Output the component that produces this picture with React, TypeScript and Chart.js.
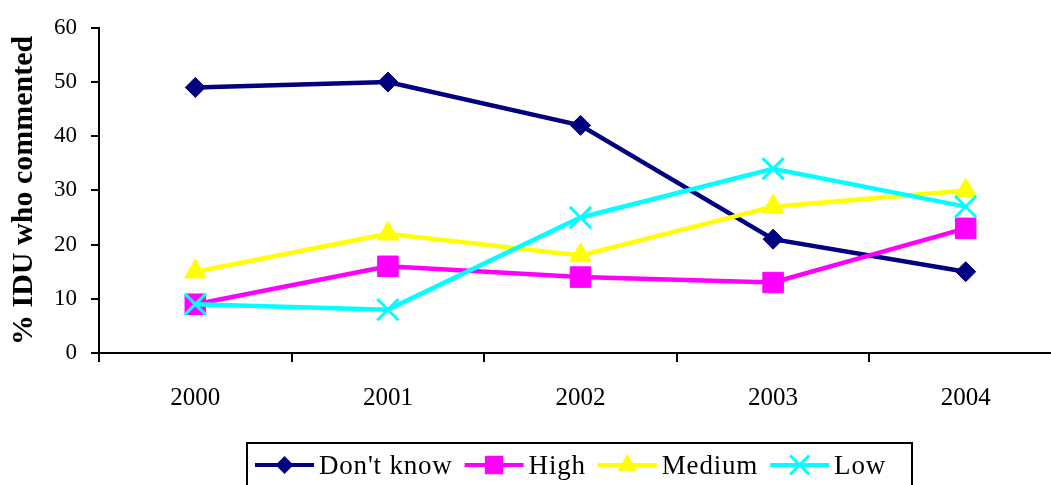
import React, { useEffect, useRef } from 'react';
import { Chart, registerables } from 'chart.js';

Chart.register(...registerables);

const years = ['2000', '2001', '2002', '2003', '2004'];
const dontKnow = [49, 50, 42, 21, 15];
const high = [9, 16, 14, 13, 23];
const medium = [15, 22, 18, 27, 30];
const low = [9, 8, 25, 34, 27];

const seriesNames = ["Don't know", 'High', 'Medium', 'Low'];
const seriesData = [dontKnow, high, medium, low];
const seriesColors = ['#000080', '#FF00FF', '#FFFF00', '#00FFFF'];
const seriesStyles = ['rectRot', 'rect', 'triangle', 'crossRot'];
const seriesRadius = [10, 14.5, 12.5, 15];

const yTitle = '% IDU who commented';
const yMin = 0;
const yMax = 60;
const yStep = 10;

const FONT = "'Liberation Serif', 'Times New Roman', serif";
const CANVAS_W = 1080;
const CANVAS_H = 500;

function drawMarker(ctx: CanvasRenderingContext2D, style: string, x: number, y: number, r: number, color: string) {
  ctx.save();
  ctx.fillStyle = color;
  ctx.strokeStyle = color;
  ctx.beginPath();
  if (style === 'rectRot') {
    ctx.moveTo(x - r, y);
    ctx.lineTo(x, y - r);
    ctx.lineTo(x + r, y);
    ctx.lineTo(x, y + r);
    ctx.closePath();
    ctx.fill();
  } else if (style === 'rect') {
    const s = Math.SQRT1_2 * r;
    ctx.rect(x - s, y - s, 2 * s, 2 * s);
    ctx.fill();
  } else if (style === 'triangle') {
    const w = Math.sin((2 * Math.PI) / 3) * r;
    ctx.moveTo(x, y - r);
    ctx.lineTo(x + w, y + r / 2);
    ctx.lineTo(x - w, y + r / 2);
    ctx.closePath();
    ctx.fill();
  } else if (style === 'crossRot') {
    const o = Math.SQRT1_2 * r;
    ctx.lineWidth = 3;
    ctx.moveTo(x - o, y - o);
    ctx.lineTo(x + o, y + o);
    ctx.moveTo(x - o, y + o);
    ctx.lineTo(x + o, y - o);
    ctx.stroke();
  }
  ctx.restore();
}

const boxLegend = {
  id: 'boxLegend',
  afterDraw(chart: any) {
    const ctx: CanvasRenderingContext2D = chart.ctx;
    ctx.save();
    ctx.strokeStyle = '#000';
    ctx.lineWidth = 2;
    ctx.strokeRect(247, 443, 665, 70);
    ctx.font = `27px ${FONT}`;
    try { (ctx as any).letterSpacing = '0.8px'; } catch (e) {}
    ctx.textBaseline = 'alphabetic';
    ctx.textAlign = 'left';
    ctx.fillStyle = '#000';
    let x = 255;
    const y = 465;
    seriesNames.forEach((name, i) => {
      ctx.save();
      ctx.strokeStyle = seriesColors[i];
      ctx.lineWidth = 4;
      ctx.beginPath();
      ctx.moveTo(x, y);
      ctx.lineTo(x + 59, y);
      ctx.stroke();
      ctx.restore();
      drawMarker(ctx, seriesStyles[i], x + 29.5, y, seriesRadius[i] * 0.9, seriesColors[i]);
      ctx.fillStyle = '#000';
      ctx.fillText(name, x + 64, 474);
      const w = ctx.measureText(name).width;
      x += 64 + w + 12;
    });
    ctx.restore();
  },
};

export default function App() {
  const ref = useRef<HTMLCanvasElement | null>(null);

  useEffect(() => {
    if (!ref.current) return;
    const chart = new Chart(ref.current, {
      type: 'line',
      data: {
        labels: years,
        datasets: seriesNames.map((name, i) => ({
          label: name,
          data: seriesData[i],
          borderColor: seriesColors[i],
          backgroundColor: seriesColors[i],
          borderWidth: 4.5,
          pointStyle: seriesStyles[i] as any,
          pointRadius: seriesRadius[i],
          pointHoverRadius: seriesRadius[i],
          pointBorderWidth: seriesStyles[i] === 'crossRot' ? 3 : 1,
          pointBackgroundColor: seriesColors[i],
          pointBorderColor: seriesColors[i],
          tension: 0,
          fill: false,
          order: seriesNames.length - i,
        })),
      },
      options: {
        responsive: false,
        animation: false,
        devicePixelRatio: 1,
        layout: { padding: { top: 22, right: 1, bottom: 0, left: 0 } },
        plugins: {
          legend: { display: false },
          tooltip: { enabled: false },
        },
        scales: {
          x: {
            type: 'category',
            offset: true,
            grid: {
              offset: true,
              drawOnChartArea: false,
              drawTicks: true,
              tickLength: 9,
              color: '#000',
              lineWidth: 2,
            },
            border: { display: true, color: '#000', width: 2 },
            ticks: {
              color: '#000',
              font: { family: FONT, size: 25 },
              padding: 21,
              maxRotation: 0,
            },
            afterFit: (scale: any) => {
              scale.height = CANVAS_H - 353;
            },
          },
          y: {
            min: yMin,
            max: yMax,
            ticks: {
              stepSize: yStep,
              color: '#000',
              font: { family: FONT, size: 23 },
              padding: 14,
            },
            grid: {
              drawOnChartArea: false,
              drawTicks: true,
              tickLength: 8,
              color: '#000',
              lineWidth: 2,
            },
            border: { display: true, color: '#000', width: 2 },
            title: {
              display: true,
              text: yTitle,
              color: '#000',
              font: { family: FONT, size: 30, weight: 'bold' },
              padding: { top: 6, bottom: 4 },
            },
            afterFit: (scale: any) => {
              scale.width = 99;
            },
          },
        },
      },
      plugins: [boxLegend],
    });
    return () => chart.destroy();
  }, []);

  return (
    <div style={{ position: 'absolute', left: 0, top: 0, width: 1051, height: 485, overflow: 'hidden', background: '#fff' }}>
      <canvas ref={ref} width={CANVAS_W} height={CANVAS_H} style={{ display: 'block', width: CANVAS_W, height: CANVAS_H }} />
    </div>
  );
}
